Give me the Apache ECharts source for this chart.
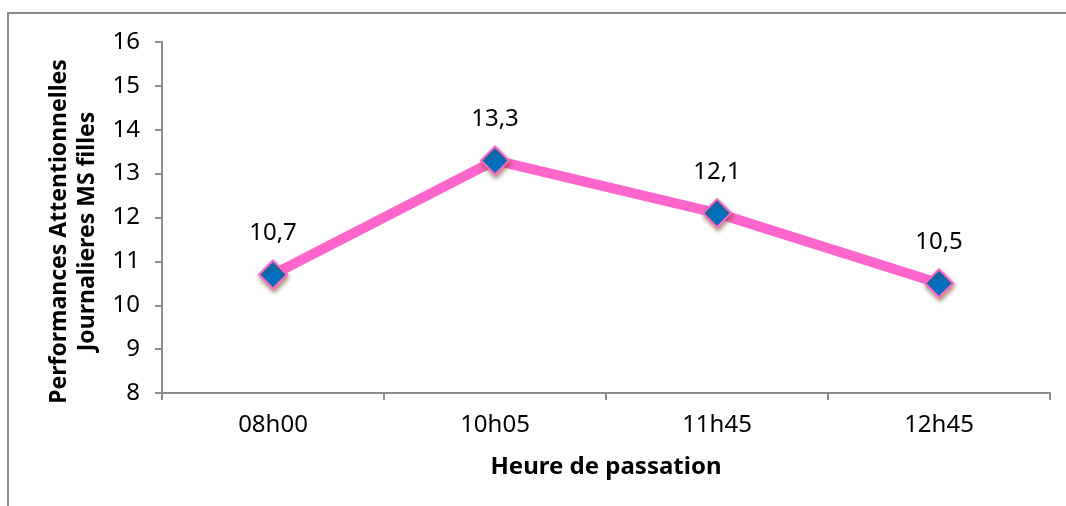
<!DOCTYPE html>
<html>
<head>
<meta charset="utf-8">
<script src="https://cdn.jsdelivr.net/npm/echarts@6/dist/echarts.min.js"></script>
<style>
  html, body { margin: 0; padding: 0; background: #fff; }
  #chart { width: 1066px; height: 506px; }
</style>
</head>
<body>
<div id="chart"></div>
<script>
// Heures de passation et performances attentionnelles (MS filles)
const categories = ['08h00', '10h05', '11h45', '12h45'];
const scores = [10.7, 13.3, 12.1, 10.5];
const yTicks = { min: 8, max: 16, interval: 1 };

const FONT = '"Noto Sans", "Open Sans", sans-serif';
const chart = echarts.init(document.getElementById('chart'), null, { renderer: 'canvas' });

chart.setOption({
  backgroundColor: '#ffffff',
  animation: false,
  graphic: [{
    type: 'rect',
    shape: { x: 8, y: 13, width: 1200, height: 600 },
    style: { fill: 'none', stroke: '#8c8c8c', lineWidth: 2 },
    silent: true
  }],
  grid: { left: 162, top: 42, right: 16, bottom: 113 },
  xAxis: {
    type: 'category',
    data: categories,
    boundaryGap: true,
    axisLine: { lineStyle: { color: '#8c8c8c', width: 2 } },
    axisTick: { show: true, length: 7, lineStyle: { color: '#8c8c8c', width: 2 } },
    axisLabel: { color: '#000', fontSize: 24, fontFamily: FONT, margin: 20 },
    name: 'Heure de passation',
    nameLocation: 'middle',
    nameGap: 62,
    nameTextStyle: { color: '#000', fontSize: 24, fontWeight: 'bold', fontFamily: FONT }
  },
  yAxis: {
    type: 'value',
    min: yTicks.min,
    max: yTicks.max,
    interval: yTicks.interval,
    splitLine: { show: false },
    axisLine: { show: true, lineStyle: { color: '#8c8c8c', width: 2 } },
    axisTick: { show: true, length: 7, lineStyle: { color: '#8c8c8c', width: 2 } },
    axisLabel: { color: '#000', fontSize: 24, fontFamily: FONT, margin: 22 },
    name: 'Performances Attentionnelles\nJournalieres MS filles',
    nameLocation: 'middle',
    nameGap: 60,
    nameTextStyle: {
      color: '#000', fontSize: 23, fontWeight: 'bold', fontFamily: FONT,
      lineHeight: 28, padding: [0, 0, 0, -28]
    }
  },
  series: [{
    type: 'line',
    data: scores,
    symbol: 'diamond',
    symbolSize: 28,
    lineStyle: { color: '#FF66CC', width: 10 },
    itemStyle: {
      color: '#0070C0',
      borderColor: '#FF66CC',
      borderWidth: 2,
      shadowColor: 'rgba(120, 60, 20, 0.55)',
      shadowBlur: 4,
      shadowOffsetX: 1,
      shadowOffsetY: 3
    },
    label: {
      show: true,
      position: 'top',
      distance: 14,
      color: '#000',
      fontSize: 24,
      fontFamily: FONT,
      formatter: p => String(p.value).replace('.', ',')
    }
  }]
});
</script>
</body>
</html>
